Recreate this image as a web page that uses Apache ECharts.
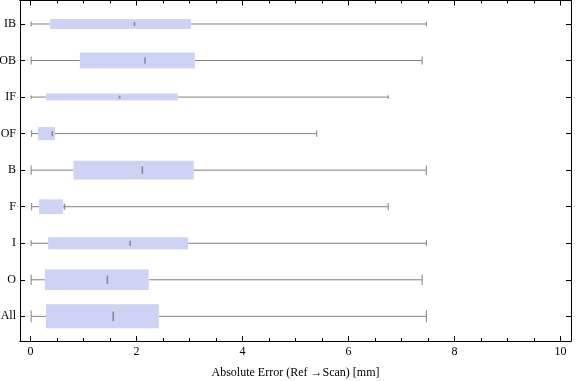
<!DOCTYPE html>
<html><head><meta charset="utf-8">
<script src="https://cdn.jsdelivr.net/npm/echarts@6/dist/echarts.min.js"></script>
<style>html,body{margin:0;padding:0;background:#fff}#c{width:576px;height:381px}</style>
</head><body><div id="c"></div>
<script>
const categories = ['IB','OB','IF','OF','B','F','I','O','All'];
const whiskerMin = [0.01,0.01,0.01,0.02,0.01,0.02,0.01,0.01,0.01];
const q1 = [0.37,0.93,0.29,0.14,0.81,0.16,0.33,0.27,0.29];
const median = [1.96,2.16,1.68,0.41,2.11,0.64,1.88,1.45,1.56];
const q3 = [3.03,3.10,2.78,0.46,3.08,0.61,2.97,2.23,2.42];
const whiskerMax = [7.47,7.39,6.75,5.40,7.47,6.75,7.47,7.39,7.47];
const sampleCount = [100,256,49,169,356,218,149,425,574];
const xMajorTicks = [0,2,4,6,8,10];
const xMinorTicks = [0.5,1,1.5,2.5,3,3.5,4.5,5,5.5,6.5,7,7.5,8.5,9,9.5];
const yTicks = categories.map((c,i)=>i);
const xTitle = 'Absolute Error (Ref →Scan) [mm]';

const maxCount = Math.max(...sampleCount);
const data = categories.map((c,i)=>[i, whiskerMin[i], q1[i], median[i], q3[i], whiskerMax[i], sampleCount[i]]);

const font = {fontFamily:'Liberation Serif', fontSize:12, color:'#000'};
const XMIN=-0.2, XMAX=10.2, YMIN=-0.643, YMAX=8.675;

function xAx(pos, ticks, len, labels, name){
  const a = {type:'value', position:pos, min:XMIN, max:XMAX,
    axisLine:{show:true, onZero:false, lineStyle:{color:'#000', width:1}},
    axisTick:{show:true, inside:true, length:len, customValues:ticks, lineStyle:{color:'#000', width:1}},
    axisLabel:labels ? Object.assign({show:true, customValues:ticks, margin:5}, font) : {show:false},
    splitLine:{show:false}};
  if(name){ a.name=name; a.nameLocation='middle'; a.nameGap=26; a.nameTextStyle=Object.assign({}, font); }
  return a;
}
function yAx(pos, labels){
  return {type:'value', position:pos, inverse:true, min:YMIN, max:YMAX,
    axisLine:{show:true, onZero:false, lineStyle:{color:'#000', width:1}},
    axisTick:{show:true, inside:true, length:5, customValues:yTicks, lineStyle:{color:'#000', width:1}},
    axisLabel:labels ? Object.assign({show:true, customValues:yTicks, margin:4, formatter:v=>categories[Math.round(v)]}, font) : {show:false},
    splitLine:{show:false}};
}

const chart = echarts.init(document.getElementById('c'), null, {renderer:'canvas'});
chart.setOption({
  animation:false,
  backgroundColor:'#fff',
  grid:{left:20, right:5, top:0.5, bottom:40, containLabel:false, outerBoundsMode:'none'},
  xAxis:[
    xAx('bottom', xMajorTicks, 5, true, xTitle),
    xAx('bottom', xMinorTicks, 3, false),
    xAx('top', xMajorTicks, 5, false),
    xAx('top', xMinorTicks, 3, false)
  ],
  yAxis:[ yAx('left', true), yAx('right', false) ],
  series:[{
    type:'custom', xAxisIndex:0, yAxisIndex:0,
    encode:{x:[1,2,3,4,5], y:0},
    data:data,
    renderItem:function(params, api){
      const y = api.value(0);
      const band = api.size([0,1])[1];
      const h = 0.657 * band * Math.sqrt(api.value(6)/maxCount);
      const pMin = api.coord([api.value(1), y]);
      const pQ1 = api.coord([api.value(2), y]);
      const pMed = api.coord([api.value(3), y]);
      const pQ3 = api.coord([api.value(4), y]);
      const pMax = api.coord([api.value(5), y]);
      const cy = pMin[1];
      const wl = {stroke:'#808080', lineWidth:1};
      const cap = h*0.5;
      return {type:'group', children:[
        {type:'line', shape:{x1:pMin[0], y1:cy, x2:pQ1[0], y2:cy}, style:wl},
        {type:'line', shape:{x1:pQ3[0], y1:cy, x2:pMax[0], y2:cy}, style:wl},
        {type:'line', shape:{x1:pMin[0], y1:cy-cap/2, x2:pMin[0], y2:cy+cap/2}, style:wl},
        {type:'line', shape:{x1:pMax[0], y1:cy-cap/2, x2:pMax[0], y2:cy+cap/2}, style:wl},
        {type:'rect', shape:{x:pQ1[0], y:cy-h/2, width:pQ3[0]-pQ1[0], height:h}, style:{fill:'rgb(204,211,245)'}},
        {type:'line', shape:{x1:pMed[0], y1:cy-h*0.2, x2:pMed[0], y2:cy+h*0.2}, style:{stroke:'rgba(120,120,120,0.8)', lineWidth:1.6}}
      ]};
    }
  }]
});
</script></body></html>
